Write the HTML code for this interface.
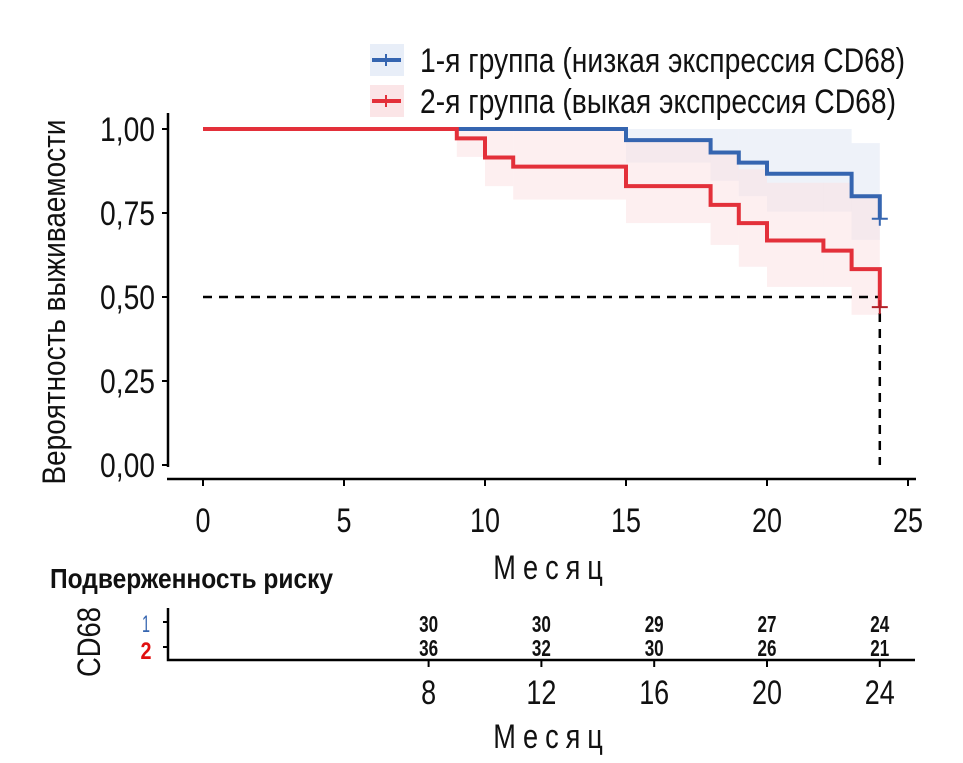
<!DOCTYPE html>
<html><head><meta charset="utf-8"><style>
body{margin:0;background:#fff;}
svg{display:block;font-family:"Liberation Sans","Noto Sans CJK SC",sans-serif;}
</style></head><body>
<svg id="chart" width="963" height="763" viewBox="0 0 963 763">
<g id="bands"></g><g id="curves"></g><g id="axes"></g><g id="risk"></g>
</svg>
<script>
const times1=[0,15,18,19,20,23,24];
const surv1=[1,0.967,0.93,0.90,0.867,0.80,0.733];
const up1=[1,1,1,1,1,0.958,0.958];
const lo1=[1,0.90,0.846,0.80,0.754,0.67,0.67];
const times2=[0,9,10,11,15,18,19,20,22,23,24];
const surv2=[1,0.972,0.915,0.888,0.83,0.774,0.72,0.668,0.638,0.583,0.47];
const up2=[1,1,1,1,0.97,0.93,0.88,0.84,0.84,0.80,0.80];
const lo2=[1,0.917,0.83,0.79,0.72,0.655,0.59,0.53,0.53,0.447,0.447];
const xTicks=[0,5,10,15,20,25];
const yTicks=[0,0.25,0.5,0.75,1];
const yTickLabels=["0,00","0,25","0,50","0,75","1,00"];
const riskTimes=[8,12,16,20,24];
const risk1=[30,30,29,27,24];
const risk2=[36,32,30,26,21];
const NS="http://www.w3.org/2000/svg";
const X=t=>203+t*28.2;
const Y=s=>465-s*336;
function mk(tag,attrs,parent,text){const e=document.createElementNS(NS,tag);for(const k in attrs)e.setAttribute(k,attrs[k]);if(text!==undefined)e.textContent=text;parent.appendChild(e);return e;}
const bands=document.getElementById('bands'),curves=document.getElementById('curves'),axes=document.getElementById('axes'),risk=document.getElementById('risk');
function drawBand(times,up,lo,color,name){
  for(let i=0;i<times.length-1;i++){
    const r=mk('rect',{x:X(times[i]),y:Y(up[i]),width:X(times[i+1])-X(times[i]),height:Y(lo[i])-Y(up[i]),fill:color,'fill-opacity':0.5},bands);
    
    
  }
}
drawBand(times1,up1,lo1,'#dde6f4','ci-band-group1');
drawBand(times2,up2,lo2,'#fbdfe1','ci-band-group2');
function stepPath(times,surv){let d=`M${X(times[0])},${Y(surv[0])}`;for(let i=1;i<times.length;i++){d+=` H${X(times[i])} V${Y(surv[i])}`;}return d;}
const dh=mk('line',{x1:X(0),y1:Y(0.5),x2:X(24),y2:Y(0.5),stroke:'#000','stroke-width':2.5,'stroke-dasharray':'9,7'},curves);


const dv=mk('line',{x1:X(24),y1:Y(0.5),x2:X(24),y2:Y(0),stroke:'#000','stroke-width':2.5,'stroke-dasharray':'9,7'},curves);


const p1=mk('path',{d:stepPath(times1,surv1),fill:'none',stroke:'#3565b0','stroke-width':4},curves);


const p2=mk('path',{d:stepPath(times2,surv2),fill:'none',stroke:'#e3303a','stroke-width':4},curves);


const c1=mk('path',{d:`M${X(24)-8},${Y(surv1[surv1.length-1])} h16 M${X(24)},${Y(surv1[surv1.length-1])-7} v14`,stroke:'#3565b0','stroke-width':2},curves);


const c2=mk('path',{d:`M${X(24)-8},${Y(surv2[surv2.length-1])} h16 M${X(24)},${Y(surv2[surv2.length-1])-7} v14`,stroke:'#b02028','stroke-width':2},curves);


const ya=mk('line',{x1:168,y1:113,x2:168,y2:Y(0)+2,stroke:'#000','stroke-width':2.5},axes);


const xa=mk('line',{x1:167,y1:479,x2:916,y2:479,stroke:'#000','stroke-width':2.5},axes);


yTicks.forEach((v,i)=>{
  mk('line',{x1:162,y1:Y(v),x2:168,y2:Y(v),stroke:'#000','stroke-width':2},axes);
  const t=mk('text',{x:155,y:Y(v)+12,'text-anchor':'end','font-size':34,textLength:55,lengthAdjust:'spacingAndGlyphs',fill:'#111'},axes,yTickLabels[i]);
  
  
});
xTicks.forEach(v=>{
  mk('line',{x1:X(v),y1:479,x2:X(v),y2:486,stroke:'#000','stroke-width':2},axes);
  const s=String(v);
  const t=mk('text',{x:X(v),y:532,'text-anchor':'middle','font-size':34,textLength:s.length*15,lengthAdjust:'spacingAndGlyphs',fill:'#111'},axes,s);
  
  
});
const xt=mk('text',{x:548,y:579,'text-anchor':'middle','font-size':34,textLength:137,lengthAdjust:'spacing',fill:'#111',transform:'translate(548,0) scale(0.8,1) translate(-548,0)'},axes,'Месяц');


const yt=mk('text',{x:0,y:0,'text-anchor':'middle','font-size':32,textLength:365,lengthAdjust:'spacingAndGlyphs',fill:'#111',transform:'translate(65,302) rotate(-90)'},axes,'Вероятность выживаемости');


const lg=mk('g',{},axes);


[['#3565b0','#e8eef8','1-я группа (низкая экспрессия CD68)',44,485],['#e3303a','#fbe5e7','2-я группа (выкая экспрессия CD68)',85,476]].forEach(([c,bg,txt,y,w],i)=>{
  const g=mk('g',{},lg);
  
  
  mk('rect',{x:370,y:y,width:34,height:32,fill:bg},g);
  mk('line',{x1:372,y1:y+16,x2:401,y2:y+16,stroke:c,'stroke-width':4},g);
  mk('line',{x1:386,y1:y+10,x2:386,y2:y+22,stroke:c,'stroke-width':2},g);
  mk('text',{x:420,y:y+28,'font-size':34,textLength:w,lengthAdjust:'spacingAndGlyphs',fill:'#111'},g,txt);
});
const rt=mk('text',{x:50,y:588,'font-size':28,'font-weight':'bold',textLength:283,lengthAdjust:'spacingAndGlyphs',fill:'#111'},risk,'Подверженность риску');


const ra=mk('path',{d:'M168,608 V660 H915',fill:'none',stroke:'#000','stroke-width':2.5},risk);


mk('line',{x1:163,y1:622,x2:168,y2:622,stroke:'#000','stroke-width':2},risk);
mk('line',{x1:163,y1:647,x2:168,y2:647,stroke:'#000','stroke-width':2},risk);
const l1=mk('text',{x:146,y:632,'text-anchor':'middle','font-size':24,fill:'#3565b0',textLength:8,lengthAdjust:'spacingAndGlyphs'},risk,'1');


const l2=mk('text',{x:146,y:659,'text-anchor':'middle','font-size':24,'font-weight':'bold',fill:'#e01010',textLength:11,lengthAdjust:'spacingAndGlyphs'},risk,'2');


const cd=mk('text',{x:0,y:0,'text-anchor':'middle','font-size':32,textLength:70,lengthAdjust:'spacingAndGlyphs',fill:'#111',transform:'translate(100,642) rotate(-90)'},risk,'CD68');


riskTimes.forEach((t,i)=>{
  const a=mk('text',{x:X(t),y:632,'text-anchor':'middle','font-size':23,'font-weight':'bold',textLength:19,lengthAdjust:'spacingAndGlyphs',fill:'#111'},risk,String(risk1[i]));
  
  
  const b=mk('text',{x:X(t),y:656,'text-anchor':'middle','font-size':23,'font-weight':'bold',textLength:19,lengthAdjust:'spacingAndGlyphs',fill:'#111'},risk,String(risk2[i]));
  
  
  mk('line',{x1:X(t),y1:660,x2:X(t),y2:667,stroke:'#000','stroke-width':2},risk);
  const s=String(t);
  const tl=mk('text',{x:X(t),y:704,'text-anchor':'middle','font-size':34,textLength:s.length*15,lengthAdjust:'spacingAndGlyphs',fill:'#111'},risk,s);
  
  
});
const rx=mk('text',{x:548,y:748,'text-anchor':'middle','font-size':34,textLength:137,lengthAdjust:'spacing',fill:'#111',transform:'translate(548,0) scale(0.8,1) translate(-548,0)'},risk,'Месяц');


</script>
</body></html>
